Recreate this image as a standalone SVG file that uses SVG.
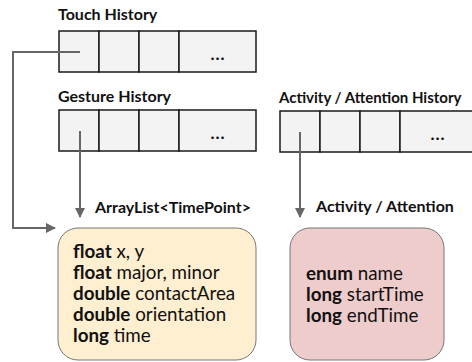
<svg xmlns="http://www.w3.org/2000/svg" width="472" height="362" viewBox="0 0 472 362">
<defs>
<style>
.t{font-family:Lato,"Open Sans",sans-serif;font-weight:bold;font-size:16px;fill:#111}
.c{fill:#f3f3f3;stroke:#1a1a1a;stroke-width:1.5}
.dots{font-family:Lato,sans-serif;font-weight:bold;font-size:17px;fill:#111;text-anchor:middle;letter-spacing:1px}
.b{font-family:Lato,"Open Sans",sans-serif;font-size:18.8px;fill:#111}
.b tspan.k{font-weight:bold}
.ln{fill:none;stroke:#666;stroke-width:2}
</style>
<marker id="ah" viewBox="0 0 10 10" refX="9" refY="5" markerWidth="5" markerHeight="5" orient="auto" markerUnits="strokeWidth">
<path d="M0,0 L10,5 L0,10 z" fill="#666"/>
</marker>
</defs>
<rect width="472" height="362" fill="#fff"/>
<g id="touch-history">
<text class="t" x="58" y="20">Touch History</text>
<rect class="c" x="59" y="31" width="40" height="41"/>
<rect class="c" x="99" y="31" width="40" height="41"/>
<rect class="c" x="139" y="31" width="40" height="41"/>
<rect class="c" x="179" y="31" width="77" height="41"/>
<text class="dots" x="218" y="60">...</text>
</g>
<g id="gesture-history">
<text class="t" x="58" y="102">Gesture History</text>
<rect class="c" x="59" y="110" width="40" height="41"/>
<rect class="c" x="99" y="110" width="40" height="41"/>
<rect class="c" x="139" y="110" width="40" height="41"/>
<rect class="c" x="179" y="110" width="77" height="41"/>
<text class="dots" x="218" y="139">...</text>
</g>
<g id="activity-history">
<text class="t" x="279" y="103" style="font-size:15px">Activity / Attention History</text>
<rect class="c" x="280" y="111" width="40" height="41"/>
<rect class="c" x="320" y="111" width="40" height="41"/>
<rect class="c" x="360" y="111" width="40" height="41"/>
<rect class="c" x="400" y="111" width="77" height="41"/>
<text class="dots" x="438" y="140">...</text>
</g>
<g id="connectors">
<path class="ln" d="M80,52 H13 V228 H55" marker-end="url(#ah)"/>
<path class="ln" d="M80,131 V217" marker-end="url(#ah)"/>
<path class="ln" d="M300,132 V217" marker-end="url(#ah)"/>
<text class="t" x="95" y="213">ArrayList&lt;TimePoint&gt;</text>
<text class="t" x="316" y="212">Activity / Attention</text>
</g>
<g id="timepoint">
<rect x="58" y="228" width="198" height="132" rx="20" fill="#fdefcf" stroke="#777" stroke-width="1"/>
<text class="b" x="73" y="258"><tspan class="k">float</tspan> x, y</text>
<text class="b" x="73" y="279"><tspan class="k">float</tspan> major, minor</text>
<text class="b" x="73" y="300"><tspan class="k">double</tspan> contactArea</text>
<text class="b" x="73" y="321"><tspan class="k">double</tspan> orientation</text>
<text class="b" x="73" y="342"><tspan class="k">long</tspan> time</text>
</g>
<g id="activity">
<rect x="290" y="228" width="154" height="132" rx="20" fill="#eecccc" stroke="#777" stroke-width="1"/>
<text class="b" x="306" y="280"><tspan class="k">enum</tspan> name</text>
<text class="b" x="306" y="301"><tspan class="k">long</tspan> startTime</text>
<text class="b" x="306" y="322"><tspan class="k">long</tspan> endTime</text>
</g>
</svg>
